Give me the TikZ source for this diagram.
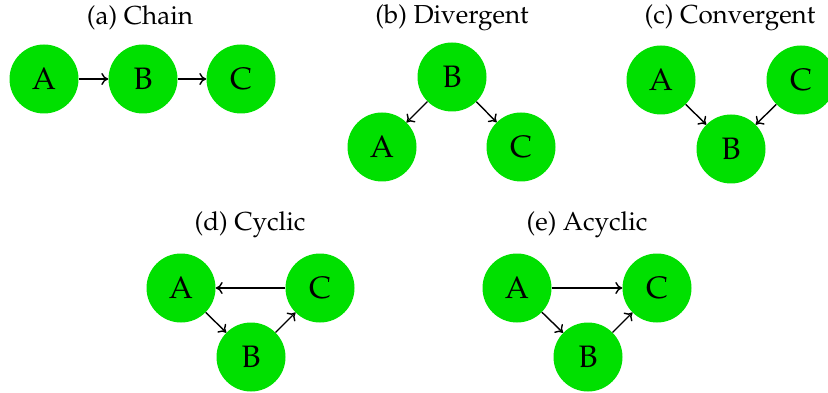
\documentclass[tikz,border=0pt]{standalone}
\usepackage[T1]{fontenc}
\usepackage{mathpazo}
\usetikzlibrary{arrows.meta}
\definecolor{nodegreen}{HTML}{00E000}
\begin{document}
\begin{tikzpicture}[x=1pt,y=-1pt,
  var/.style={circle,fill=nodegreen,minimum size=69pt,inner sep=0pt,
    font=\fontsize{31}{34}\selectfont},
  subtitle/.style={font=\fontsize{26}{30}\selectfont,inner sep=0pt},
  edge/.style={-{Computer Modern Rightarrow[length=7pt,width=12pt]},line width=1.4pt,black}]
\useasboundingbox (0,0) rectangle (828,393);
% (a) chain
\node[subtitle] (ta) at (140,18) {(a) Chain};
\node[var] (a1) at (44,79) {A};
\node[var] (b1) at (143,79) {B};
\node[var] (c1) at (241,79) {C};
\draw[edge] (a1) -- (b1);
\draw[edge] (b1) -- (c1);
% (b) divergent
\node[subtitle] (tb) at (452,18) {(b) Divergent};
\node[var] (b2) at (452,77) {B};
\node[var] (a2) at (382,147) {A};
\node[var] (c2) at (521,147) {C};
\draw[edge] (b2) -- (a2);
\draw[edge] (b2) -- (c2);
% (c) convergent
\node[subtitle] (tc) at (730,18) {(c) Convergent};
\node[var] (a3) at (661,80) {A};
\node[var] (c3) at (801,80) {C};
\node[var] (b3) at (731,149) {B};
\draw[edge] (a3) -- (b3);
\draw[edge] (c3) -- (b3);
% (d) cyclic
\node[subtitle] (td) at (250,225) {(d) Cyclic};
\node[var] (a4) at (181,288) {A};
\node[var] (c4) at (320,288) {C};
\node[var] (b4) at (251,357) {B};
\draw[edge] (a4) -- (b4);
\draw[edge] (b4) -- (c4);
\draw[edge] (c4) -- (a4);
% (e) acyclic
\node[subtitle] (te) at (587,225) {(e) Acyclic};
\node[var] (a5) at (517,288) {A};
\node[var] (c5) at (657,288) {C};
\node[var] (b5) at (588,357) {B};
\draw[edge] (a5) -- (b5);
\draw[edge] (b5) -- (c5);
\draw[edge] (a5) -- (c5);
\end{tikzpicture}
\end{document}
